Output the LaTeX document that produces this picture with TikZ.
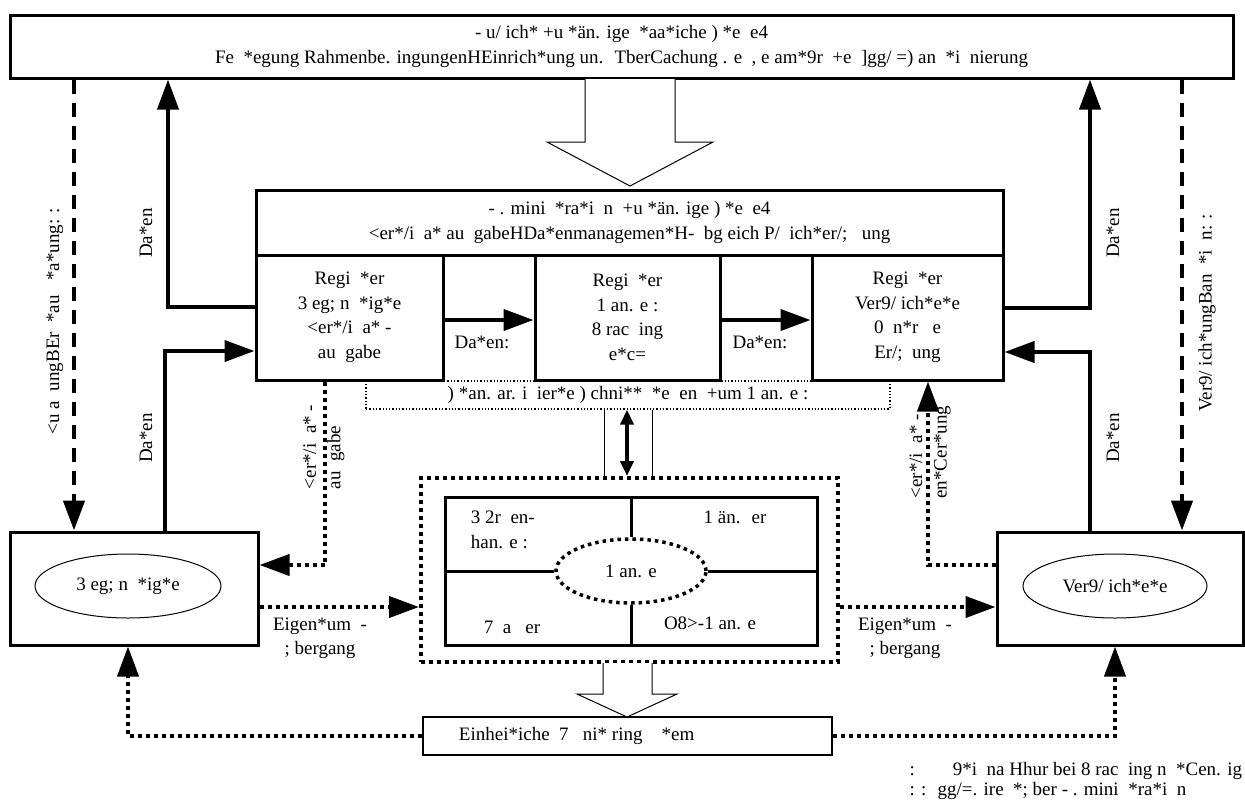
\documentclass[tikz,border=0pt]{standalone}
\usepackage{fontspec}
\setmainfont{Liberation Serif}
\usetikzlibrary{arrows.meta,shapes.geometric}

\tikzset{
  txt/.style={font=\fontsize{19}{24.5}\selectfont, inner sep=0.75pt, align=center},
  bigbox/.style={txt, draw, line width=3pt, fill=white, inner sep=0pt},
  thinbox/.style={txt, draw, line width=1.2pt, fill=white, inner sep=0pt},
  oval/.style={txt, ellipse, draw, line width=1pt, inner sep=0pt},
  solidarrow/.style={line width=4pt, -{Triangle[length=30pt,width=21pt]}},
  dasharrow/.style={line width=4.5pt, dash pattern=on 14pt off 9pt, -{Triangle[length=30pt,width=21pt]}},
  dotarrow/.style={line width=4pt, dash pattern=on 4pt off 4pt, -{Triangle[length=30pt,width=21pt]}},
  bigdots/.style={line width=4pt, dash pattern=on 4pt off 4pt},
  hollow/.style={draw, line width=1pt, fill=white},
}

\begin{document}
\begin{tikzpicture}[x=1pt,y=1pt,yscale=-1,xscale=1]
\useasboundingbox (0,0) rectangle (1245,804);

%Shape: Rectangle [top level]
\node [bigbox, minimum width=1223pt, minimum height=63pt] (leit) at (621.5,46.5)
  {- u/ ich* +u *än. ige ~*aa*iche ) *e ~e4\\Fe ~*egung Rahmenbe. ingungenHEinrich*ung un. ~TberCachung . e ~, e am*9r ~+e ~]gg/ =) an ~*i ~nierung};

%Shape: Rectangle [admin level]
\node [bigbox, minimum width=747pt, minimum height=65pt] (admin) at (629.5,222.5)
  {- . mini ~*ra*i ~n ~+u *än. ige ) *e ~e4\\<er*/i ~a* au ~gabeHDa*enmanagemen*H- ~bg eich P/ ~ich*er/; ~~ung};

%Shape: Rectangle [registers]
\node [bigbox, minimum width=187pt, minimum height=125pt] (regl) at (349.5,317.5)
  {Regi ~*er\\3 eg; n ~*ig*e\\<er*/i ~a* -\\au ~gabe};
\node [bigbox, minimum width=185pt, minimum height=125pt] (regm) at (627.5,317.5)
  {Regi ~*er\\1 an. e :\\8 rac ~ing\\e*c=};
\node [bigbox, minimum width=191pt, minimum height=125pt] (regr) at (907.5,317.5)
  {Regi ~*er\\Ver9/ ich*e*e\\0 ~n*r ~~e\\Er/; ~ung};

%Shape: Rectangle [dotted standard box]
\node [txt, draw, line width=1.3pt, dash pattern=on 1.3pt off 2pt, minimum width=524pt, minimum height=28pt, inner sep=0pt] (std) at (628,395)
  {) *an. ar. i ~ier*e ) chni** ~*e ~en ~+um 1 an. e :};

%Shape: Rectangle [land register block]
\node [bigdots, draw, minimum width=417pt, minimum height=184pt, inner sep=0pt] (frame) at (629.5,570) {};
\node [draw, line width=3pt, minimum width=372pt, minimum height=148pt, inner sep=0pt] (tab) at (631,571) {};
\node [txt, ellipse, draw, line width=3.5pt, dash pattern=on 3.5pt off 4pt, fill=white, minimum width=150pt, minimum height=64pt, inner sep=0pt] (ell) at (631,571) {1 an. e};
\draw [line width=3pt] (tab.north) -- (ell.north);
\draw [line width=3pt] (tab.south) -- (ell.south);
\draw [line width=3pt] (tab.west) -- (ell.west);
\draw [line width=3pt] (tab.east) -- (ell.east);

% Text Node
\node [txt, align=left, anchor=west] (cellA) at (470,530) {3 2r ~en-\\han. e :};
\node [txt] (cellB) at (735,517) {1 än. ~er};
\node [txt] (cellC) at (512,627) {7 ~a ~~er};
\node [txt] (cellD) at (710,623) {O8>-1 an. e};

%Shape: Rectangle [owner boxes]
\node [bigbox, minimum width=248pt, minimum height=113pt] (lbox) at (134,588.5) {};
\node [oval, minimum width=186pt, minimum height=64pt] (lell) at (128,586) {3 eg; n ~*ig*e};
\node [bigbox, minimum width=246pt, minimum height=113pt] (rbox) at (1120,588.5) {};
\node [oval, minimum width=184pt, minimum height=64pt] (rell) at (1115,586) {Ver9/ ich*e*e};

%Shape: Rectangle [monitoring]
\node [thinbox, minimum width=409pt, minimum height=38pt] (mon) at (627.5,736) {};
\node [txt, anchor=west] (monlab) at (458,736) {Einhei*iche ~7 ~~ni* ring ~~~*em};

%Block Arrows
\draw [hollow] (585,79) -- (585,142) -- (547,142) -- (630,186) -- (713,142) -- (675,142) -- (675,79);
\draw [hollow] (603,663) -- (603,694) -- (577,694) -- (627,717) -- (677,694) -- (652,694) -- (652,663);

%Straight Lines
\draw [line width=1pt] (std.south -| 604,0) -- (frame.north -| 604,0);
\draw [line width=1pt] (std.south -| 652,0) -- (frame.north -| 652,0);
\draw [line width=4pt, {Triangle[length=15pt,width=13pt]}-{Triangle[length=15pt,width=13pt]}] (std.south -| 627,0) -- (frame.north -| 627,0);

\draw [solidarrow] (regl.east |- 0,320) -- (regm.west |- 0,320);
\draw [solidarrow] (regm.east |- 0,320) -- (regr.west |- 0,320);

% left side
\draw [dasharrow] (leit.south -| 74,0) -- (lbox.north -| 74,0);
\draw [solidarrow] (regl.west |- 0,307) -| (leit.south -| 168,0);
\draw [solidarrow] (lbox.north -| 165,0) |- (regl.west |- 0,351);
\draw [dotarrow] (regl.south -| 325,0) |- (lbox.east |- 0,565);
\draw [dotarrow] (lbox.east |- 0,607) -- (frame.west |- 0,607);
\draw [dotarrow] (mon.west) -| (lbox.south -| 128,0);

% right side
\draw [dasharrow] (leit.south -| 1182,0) -- (rbox.north -| 1182,0);
\draw [solidarrow] (regr.east |- 0,308) -| (leit.south -| 1090,0);
\draw [solidarrow] (rbox.north -| 1090,0) |- (regr.east |- 0,352);
\draw [dotarrow] (rbox.west |- 0,565) -| (regr.south -| 928,0);
\draw [dotarrow] (frame.east |- 0,607) -- (rbox.west |- 0,607);
\draw [dotarrow] (mon.east) -| (rbox.south -| 1115,0);

% Text Node
\node [txt] (datM1) at (482,342) {Da*en:};
\node [txt] (datM2) at (760,342) {Da*en:};
\node [txt, rotate=90] (datL1) at (146,233) {Da*en};
\node [txt, rotate=90] (datL2) at (146,438) {Da*en};
\node [txt, rotate=90] (datR1) at (1113,233) {Da*en};
\node [txt, rotate=90] (datR2) at (1113,438) {Da*en};
\node [txt, rotate=90] (koordL) at (55,321) {<u a ~ungBEr ~*au ~~*a*ung: :};
\node [txt, rotate=90] (koordR) at (1207,313) {Ver9/ ich*ungBan ~*i ~n: :};
\node [txt, rotate=90, align=left] (zugL) at (324,447) {<er*/i ~a* -\\au ~gabe};
\node [txt, rotate=90, align=left] (zugR) at (930,452) {<er*/i ~a* -\\en*Cer*ung};
\node [txt] (eigL) at (320,638) {Eigen*um ~-\\; bergang};
\node [txt] (eigR) at (905,638) {Eigen*um ~-\\; bergang};
\node [txt, font=\fontsize{19}{20.5}\selectfont, align=left, anchor=south east] (fn) at (1243,801)
  {:\hspace{2em}9*i ~na Hhur bei 8 rac ~ing n ~*Cen. ig\\: : ~gg/=. ire ~*; ber - . mini ~*ra*i ~n};

\end{tikzpicture}
\end{document}
